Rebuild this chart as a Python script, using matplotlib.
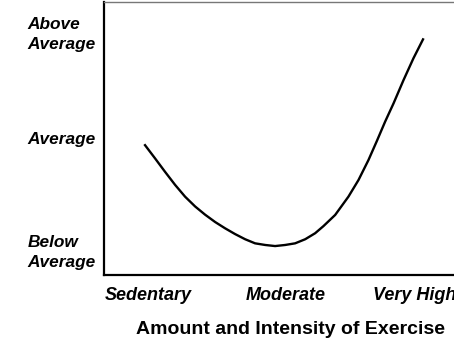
import matplotlib.pyplot as plt

# curve (x: exercise level, y: risk score 0-100)
exercise = [-0.027, 0.051, 0.123, 0.196, 0.268, 0.341, 0.413, 0.486, 0.558, 0.630,
            0.703, 0.775, 0.848, 0.920, 0.993, 1.065, 1.138, 1.210, 1.270, 1.355,
            1.451, 1.524, 1.596, 1.657, 1.717, 1.778, 1.850, 1.922, 1.995]
risk = [47.9, 42.7, 37.8, 33.0, 28.7, 25.1, 22.1, 19.4, 17.1, 15.0,
        13.1, 11.6, 11.0, 10.6, 11.0, 11.6, 13.1, 15.3, 17.9, 22.0,
        28.7, 34.8, 42.1, 49.1, 56.2, 62.9, 71.4, 79.4, 86.7]

x_ticks = [0, 1, 1.93]
x_labels = ['Sedentary', 'Moderate', 'Very High']
y_ticks = [9.6, 50.2, 89.5]
y_labels = ['Below\nAverage', 'Average', 'Above\nAverage']

plt.rcParams['font.family'] = ['Liberation Sans', 'DejaVu Sans']

fig = plt.figure(figsize=(4.54, 3.41), dpi=100)
ax = fig.add_axes([104 / 454, 66 / 341, 352 / 454, 273 / 341])

ax.plot(exercise, risk, color='black', lw=1.7,
        solid_capstyle='butt', solid_joinstyle='round')

ax.set_xlim(-0.319, 2.23)
ax.set_ylim(0, 100)

ax.spines['right'].set_visible(False)
ax.spines['top'].set_color('#777777')
ax.spines['top'].set_linewidth(1.0)
for s in ('left', 'bottom'):
    ax.spines[s].set_linewidth(1.6)

ax.set_xticks(x_ticks, x_labels, fontsize=13, fontweight='bold', fontstyle='italic')
for lab in ax.get_xticklabels():
    lab.set_va('baseline')
ax.set_yticks(y_ticks, y_labels, fontsize=12.4, fontweight='bold', fontstyle='italic')
for lab in ax.get_yticklabels():
    lab.set_ha('left')
    lab.set_linespacing(1.4)
ax.tick_params(axis='y', length=0, pad=55)
ax.tick_params(axis='x', length=0, pad=18)

ax.set_xlabel('Amount and Intensity of Exercise', fontsize=14, fontweight='bold',
              va='center')
ax.xaxis.set_label_coords((290 - 104) / 352, (275 - 330) / 273)

fig.savefig('out.png', dpi=100)
